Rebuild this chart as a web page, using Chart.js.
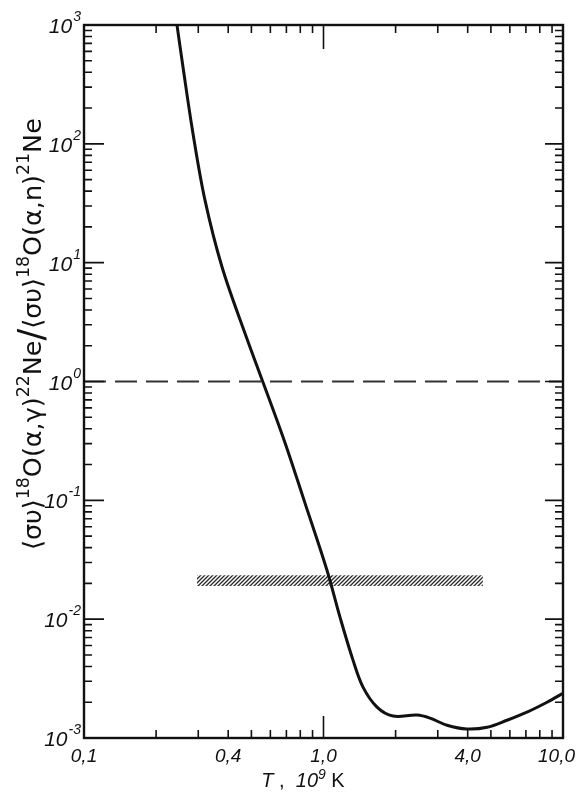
<!DOCTYPE html>
<html>
<head>
<meta charset="utf-8">
<script src="https://cdn.jsdelivr.net/npm/chart.js@4.4.1/dist/chart.umd.min.js"></script>
<style>
    html, body { margin: 0; padding: 0; background: #fff; }
    #wrap { width: 578px; height: 795px; }
</style>
</head>
<body>
<div id="wrap"><canvas id="ratio-chart"></canvas></div>
<script>
// T in 10^9 K
const tempT = [0.2445, 0.259, 0.285, 0.32, 0.377, 0.47, 0.678, 0.837, 1.034, 1.172, 1.328, 1.462, 1.673, 1.951, 2.458, 2.784, 3.28, 3.97, 4.82, 5.84, 7.07, 8.58, 10.0];
// <sv> 18O(a,g)22Ne / <sv> 18O(a,n)21Ne
const rateRatio = [1000, 443, 123, 33.6, 9.2, 2.55, 0.34, 0.0947, 0.0258, 0.0104, 0.00452, 0.00268, 0.00182, 0.00153, 0.00156, 0.00147, 0.00128, 0.00119, 0.00123, 0.00141, 0.00165, 0.002, 0.00238];

// dashed line at ratio = 1
const unityT = [0.1, 10];
const unityRatio = [1, 1];

// hatched band
const bandT = [0.296, 4.63];
const bandLow = [0.019, 0.019];
const bandHigh = [0.0234, 0.0234];

const xTickValues = [0.1, 0.4, 1, 4, 10];
const xTickLabels = ['0,1', '0,4', '1,0', '4,0', '10,0'];
const yDecades = [3, 2, 1, 0, -1, -2, -3];

const yTitleParts = [
    ['⟨συ⟩', 0], ['18', 1], ['O(α,γ)', 0], ['22', 1], ['Ne', 0], ['/', 2],
    ['⟨συ⟩', 0], ['18', 1], ['O(α,n)', 0], ['21', 1], ['Ne', 0],
];

const toPoints = (xs, ys) => xs.map((v, i) => ({ x: v, y: ys[i] }));

function hatchPattern() {
    const c = document.createElement('canvas');
    c.width = 4;
    c.height = 4;
    const g = c.getContext('2d');
    g.strokeStyle = '#2a2a2a';
    g.lineWidth = 1.3;
    g.beginPath();
    g.moveTo(0, 4);
    g.lineTo(4, 0);
    g.moveTo(-1, 1);
    g.lineTo(1, -1);
    g.moveTo(3, 5);
    g.lineTo(5, 3);
    g.stroke();
    return g.createPattern(c, 'repeat');
}

// tick positions 2..9 inside each decade
function minorTicks(fromExp, toExp) {
    const out = [];
    for (let e = fromExp; e < toExp; e++) {
        for (let m = 2; m <= 9; m++) out.push(m * Math.pow(10, e));
    }
    return out;
}
const xMinor = minorTicks(-1, 1);
const yMinor = minorTicks(-3, 3);

const italic = (px) => `italic ${px}px "Liberation Sans", Arial, sans-serif`;
const upright = (px) => `${px}px "Liberation Sans", Arial, sans-serif`;

const frameAndLabels = {
    id: 'frameAndLabels',
    afterDraw(chart) {
        const { ctx, chartArea: a } = chart;
        const x = chart.scales.x;
        const y = chart.scales.y;
        ctx.save();
        ctx.strokeStyle = '#111';
        ctx.fillStyle = '#111';

        // inward ticks on all four sides
        ctx.lineWidth = 1.6;
        ctx.beginPath();
        xMinor.forEach((v) => {
            const px = x.getPixelForValue(v);
            ctx.moveTo(px, a.bottom);
            ctx.lineTo(px, a.bottom - 8);
            ctx.moveTo(px, a.top);
            ctx.lineTo(px, a.top + 8);
        });
        const one = x.getPixelForValue(1);
        ctx.moveTo(one, a.bottom);
        ctx.lineTo(one, a.bottom - 22);
        ctx.moveTo(one, a.top);
        ctx.lineTo(one, a.top + 24);
        yMinor.forEach((v) => {
            const py = y.getPixelForValue(v);
            ctx.moveTo(a.left, py);
            ctx.lineTo(a.left + 8, py);
            ctx.moveTo(a.right, py);
            ctx.lineTo(a.right - 8, py);
        });
        yDecades.forEach((d) => {
            const py = y.getPixelForValue(Math.pow(10, d));
            ctx.moveTo(a.left, py);
            ctx.lineTo(a.left + 20, py);
            ctx.moveTo(a.right, py);
            ctx.lineTo(a.right - 18, py);
        });
        ctx.stroke();

        ctx.lineWidth = 2.4;
        ctx.strokeRect(a.left, a.top, a.right - a.left, a.bottom - a.top);

        // x tick labels
        ctx.font = italic(19);
        ctx.textBaseline = 'alphabetic';
        ctx.textAlign = 'left';
        xTickValues.forEach((v, i) => {
            const w = ctx.measureText(xTickLabels[i]).width;
            let left = x.getPixelForValue(v) - w / 2;
            left = Math.max(2, Math.min(chart.width - w - 3, left));
            ctx.fillText(xTickLabels[i], left, a.bottom + 24);
        });

        // y tick labels, 10 with raised exponent
        yDecades.forEach((d) => {
            const py = y.getPixelForValue(Math.pow(10, d));
            const exp = d < 0 ? '-' + Math.abs(d) : String(d);
            ctx.font = italic(14);
            const we = ctx.measureText(exp).width;
            ctx.font = italic(21);
            const wb = ctx.measureText('10').width;
            const right = a.left - 3;
            ctx.fillText('10', right - we - wb - 1, py + 8);
            ctx.font = italic(14);
            ctx.fillText(exp, right - we, py - 4);
        });

        // x title: T, 10^9 K
        const xt = [
            ['T', italic(20), 0],
            [' ,  ', upright(20), 0],
            ['10', italic(20), 0],
            ['9', italic(14), -8],
            [' K', upright(20), 0],
        ];
        let total = 0;
        xt.forEach((p) => { ctx.font = p[1]; total += ctx.measureText(p[0]).width; });
        let cx = 303 - total / 2;
        xt.forEach((p) => {
            ctx.font = p[1];
            ctx.fillText(p[0], cx, 787 + p[2]);
            cx += ctx.measureText(p[0]).width;
        });

        // y title, rotated, stretched to span 118..550
        const titleFont = (kind, s) => {
            const size = kind === 1 ? 15 * s : kind === 2 ? 30 * s : 22 * s;
            return `${size}px "DejaVu Sans", sans-serif`;
        };
        let tw = 0;
        yTitleParts.forEach((p) => { ctx.font = titleFont(p[1], 1); tw += ctx.measureText(p[0]).width; });
        const s = 432 / tw;
        ctx.translate(41, 334);
        ctx.rotate(-Math.PI / 2);
        let tx = -216;
        yTitleParts.forEach((p) => {
            ctx.font = titleFont(p[1], s);
            ctx.fillText(p[0], tx, p[1] === 1 ? -10 * s : p[1] === 2 ? 2 : 0);
            tx += ctx.measureText(p[0]).width;
        });
        ctx.restore();
    },
};

const config = {
    type: 'line',
    data: {
        datasets: [
            {
                data: toPoints(tempT, rateRatio),
                borderColor: '#111',
                borderWidth: 3,
                tension: 0.35,
                fill: false,
            },
            {
                data: toPoints(unityT, unityRatio),
                borderColor: '#333',
                borderWidth: 2,
                borderDash: [22, 9],
                fill: false,
            },
            {
                data: toPoints(bandT, bandLow),
                borderWidth: 0,
                borderColor: 'rgba(0,0,0,0)',
                fill: false,
            },
            {
                data: toPoints(bandT, bandHigh),
                borderWidth: 0,
                borderColor: 'rgba(0,0,0,0)',
                backgroundColor: hatchPattern(),
                fill: '-1',
            },
        ],
    },
    options: {
        responsive: true,
        maintainAspectRatio: false,
        animation: false,
        layout: { padding: { left: 84, right: 15, top: 25, bottom: 57 } },
        elements: { point: { radius: 0 } },
        plugins: { legend: { display: false }, tooltip: { enabled: false } },
        scales: {
            x: { type: 'logarithmic', min: 0.1, max: 10, display: false },
            y: { type: 'logarithmic', min: 0.001, max: 1000, display: false },
        },
    },
    plugins: [frameAndLabels],
};

new Chart(document.getElementById('ratio-chart'), config);
</script>
</body>
</html>
